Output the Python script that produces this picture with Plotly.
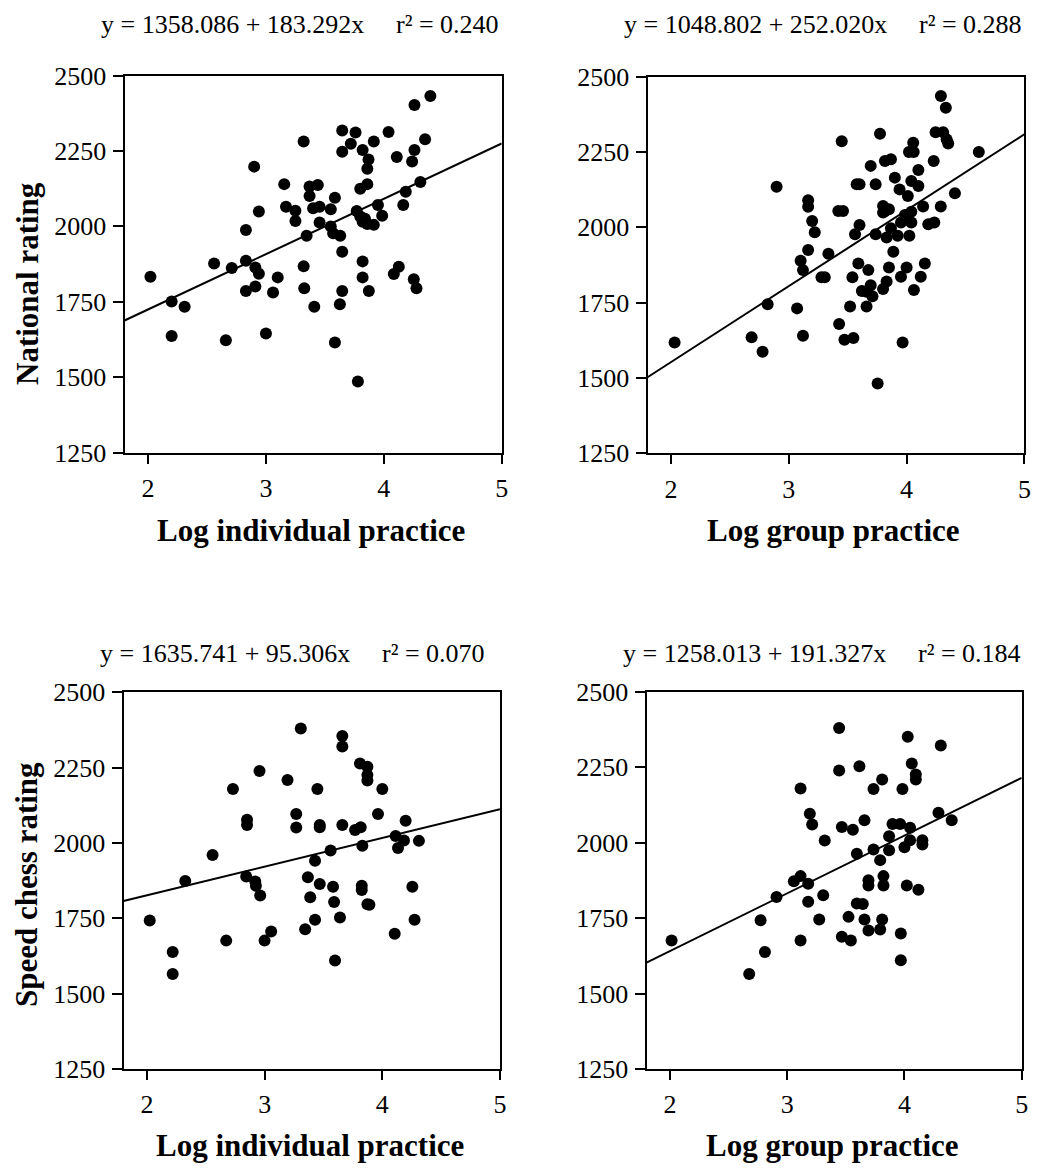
import plotly.graph_objects as go

# ---------------- data ----------------
ind_nat_x = [3.32, 2.90, 3.155, 3.37, 3.37, 3.40, 3.17, 3.25, 3.25, 2.94, 2.83, 3.345, 2.56, 2.71, 2.83, 2.91,
             2.94, 3.10, 3.32, 2.02, 2.20, 2.31, 2.83, 2.91, 3.06, 3.325, 3.41, 2.20, 2.66, 3.00,
             4.395, 4.26, 3.647, 3.76, 4.04, 3.72, 3.915, 4.35, 3.647, 3.82, 4.26, 3.87, 4.11, 4.24, 3.86,
             3.44, 3.86, 3.80, 3.585, 4.31, 4.186, 3.455, 3.55, 3.95, 4.165, 3.77, 3.80, 3.84, 3.82, 3.86,
             3.915, 3.986, 3.455, 3.55, 3.57, 3.63, 3.647, 3.82, 4.127, 4.085, 4.254, 4.277, 3.82, 3.647,
             3.873, 3.627, 3.585, 3.78]
ind_nat_y = [2281, 2198, 2140, 2132, 2101, 2060, 2065, 2052, 2018, 2049, 1988, 1969, 1877, 1862, 1886, 1864,
             1843, 1831, 1868, 1833, 1751, 1734, 1786, 1801, 1781, 1795, 1734, 1637, 1623, 1645,
             2432, 2402, 2318, 2311, 2313, 2274, 2281, 2289, 2247, 2253, 2253, 2222, 2230, 2215, 2191,
             2137, 2140, 2125, 2095, 2147, 2115, 2065, 2057, 2071, 2071, 2051, 2033, 2025, 2015, 2008,
             2005, 2035, 2013, 2000, 1977, 1969, 1916, 1884, 1866, 1842, 1825, 1795, 1831, 1786,
             1786, 1742, 1615, 1486]

grp_nat_x = [2.896, 3.164, 3.164, 3.198, 3.22, 3.164, 3.10, 3.12, 3.277, 3.305, 3.336, 2.82, 3.07, 2.03,
             2.684, 2.777, 3.12,
             4.291, 4.333, 3.774, 3.449, 4.246, 4.31, 4.34, 4.353, 4.056, 4.02, 4.06, 4.613, 3.816, 3.867,
             3.695, 4.23, 4.10, 3.576, 3.60, 3.737, 3.90, 4.04, 4.10, 3.94, 4.01, 4.41, 3.42, 3.46, 3.80,
             3.816, 3.85, 3.80, 4.14, 4.29, 4.04, 3.986, 4.04, 3.952, 4.184, 4.235, 3.60, 3.562, 3.737,
             3.867, 3.83, 3.924, 4.023, 3.887, 3.59, 3.675, 3.85, 4.0, 4.155, 3.54, 3.952, 4.12, 3.83,
             3.695, 3.62, 3.66, 3.71, 3.80, 4.062, 3.52, 3.66, 3.427, 3.472, 3.548, 3.966, 3.754]
grp_nat_y = [2135, 2090, 2068, 2021, 1984, 1925, 1889, 1858, 1834, 1834, 1912, 1745, 1731, 1618,
             1635, 1587, 1640,
             2436, 2397, 2311, 2286, 2316, 2316, 2292, 2278, 2281, 2250, 2250, 2250, 2220, 2226,
             2204, 2220, 2190, 2143, 2143, 2143, 2165, 2154, 2137, 2126, 2104, 2113, 2054, 2054, 2071,
             2054, 2060, 2049, 2069, 2069, 2052, 2041, 2016, 2016, 2010, 2016, 2008, 1977, 1977,
             1997, 1966, 1972, 1972, 1919, 1880, 1858, 1867, 1867, 1880, 1834, 1836, 1836, 1820,
             1808, 1789, 1786, 1771, 1795, 1792, 1737, 1737, 1679, 1627, 1633, 1618, 1482]

ind_spd_x = [3.307, 2.956, 2.73, 3.194, 3.268, 2.85, 2.85, 3.268, 2.557, 2.325, 2.843, 2.92, 2.925, 2.962,
             3.367, 3.387, 2.023, 2.673, 2.999, 3.055, 3.344, 2.218, 2.218,
             3.66, 3.66, 3.81, 3.873, 3.873, 3.873, 3.448, 4.0, 3.963, 4.198, 3.468, 3.468, 3.66, 3.768,
             3.816, 3.56, 3.83, 4.113, 4.184, 4.133, 4.311, 3.428, 3.468, 3.581, 3.825, 3.825, 4.255,
             3.59, 3.873, 3.89, 3.428, 3.64, 4.274, 4.105, 3.598]
ind_spd_y = [2380, 2239, 2179, 2209, 2096, 2077, 2060, 2051, 1960, 1874, 1889, 1872, 1858, 1826,
             1886, 1820, 1743, 1676, 1676, 1706, 1714, 1638, 1565,
             2355, 2320, 2264, 2253, 2226, 2207, 2179, 2179, 2096, 2074, 2060, 2052, 2060, 2043,
             2052, 1975, 1991, 2023, 2008, 1983, 2007, 1941, 1864, 1855, 1858, 1844, 1855,
             1804, 1797, 1795, 1745, 1753, 1745, 1699, 1610]

grp_spd_x = [3.114, 3.193, 3.213, 3.32, 3.057, 3.114, 3.179, 3.307, 3.179, 2.909, 2.773, 3.273, 2.014,
             2.81, 3.114, 2.676,
             3.443, 4.028, 4.31, 3.443, 3.616, 4.0625, 4.097, 4.097, 3.81, 3.736, 3.983, 4.29, 4.403,
             3.466, 3.56, 3.659, 3.898, 3.963, 4.048, 3.869, 4.048, 4.0, 4.153, 4.153, 3.594, 3.736,
             3.869, 3.793, 3.693, 3.693, 3.821, 3.821, 4.02, 4.119, 3.594, 3.645, 3.523, 3.659, 3.81,
             3.693, 3.793, 3.466, 3.543, 3.969, 3.969]
grp_spd_y = [2179, 2096, 2060, 2007, 1872, 1889, 1864, 1826, 1804, 1820, 1743, 1745, 1676,
             1638, 1676, 1565,
             2380, 2351, 2322, 2239, 2253, 2262, 2226, 2209, 2209, 2178, 2178, 2099, 2074,
             2052, 2043, 2074, 2062, 2062, 2049, 2021, 2008, 1985, 2008, 1994, 1963, 1977,
             1975, 1942, 1875, 1858, 1889, 1858, 1858, 1844, 1798, 1797, 1754, 1745, 1745,
             1709, 1712, 1688, 1676, 1699, 1610]

# regression equations printed above each panel: (intercept, slope, r2)
fits = [(1358.086, 183.292, 0.240), (1048.802, 252.020, 0.288),
        (1635.741, 95.306, 0.070), (1258.013, 191.327, 0.184)]

x_ticks = [2, 3, 4, 5]
y_ticks = [1250, 1500, 1750, 2000, 2250, 2500]
x_range = [1.8, 5]
y_range = [1250, 2500]

x_titles = ["Log individual practice", "Log group practice",
            "Log individual practice", "Log group practice"]
y_titles = ["National rating", "Speed chess rating"]

# ---------------- layout geometry ----------------
W, H = 1045, 1173
OFF = 8  # page body margin
# pixel boxes in page coordinates: (left, right, top, bottom)
boxes = [(124.5, 501.7, 75.5, 452.7),
         (647.5, 1024.4, 76.7, 453.3),
         (123.5, 500.0, 692.3, 1069.0),
         (646.5, 1021.7, 691.7, 1069.0)]
title_digit_y = [25, 25, 653, 653]
ytitle_center = [284, 885]
xtitle_y = [530, 530, 1145, 1145]


def px(x):
    return (x - OFF) / W


def py(y):
    return 1 - (y - OFF) / H


FONT = "Liberation Serif, Times New Roman, serif"

fig = go.Figure()
datasets = [(ind_nat_x, ind_nat_y), (grp_nat_x, grp_nat_y),
            (ind_spd_x, ind_spd_y), (grp_spd_x, grp_spd_y)]

for i, ((xs, ys), (b0, b1, r2)) in enumerate(zip(datasets, fits)):
    xa = "x" if i == 0 else f"x{i+1}"
    ya = "y" if i == 0 else f"y{i+1}"
    fig.add_trace(go.Scatter(
        x=x_range, y=[b0 + b1 * x_range[0], b0 + b1 * x_range[1]],
        mode="lines", line=dict(color="black", width=2),
        xaxis=xa, yaxis=ya, showlegend=False, hoverinfo="skip"))
    fig.add_trace(go.Scatter(
        x=xs, y=ys, mode="markers",
        marker=dict(size=12, color="black", line=dict(width=0)),
        xaxis=xa, yaxis=ya, showlegend=False, cliponaxis=False))

layout = dict(width=W, height=H, margin=dict(l=0, r=0, t=0, b=0, autoexpand=False),
              paper_bgcolor="white", plot_bgcolor="white",
              font=dict(family=FONT, color="black", size=26))
annotations = []
for i, (l, r, t, b) in enumerate(boxes):
    sx = "" if i == 0 else str(i + 1)
    layout["xaxis" + sx] = dict(
        domain=[px(l), px(r)], range=x_range, anchor="y" + sx, automargin=False,
        tickvals=x_ticks, ticks="outside", ticklen=9, tickwidth=2, tickcolor="black",
        showline=True, linecolor="black", linewidth=2, mirror=True,
        showgrid=False, zeroline=False, tickfont=dict(size=26, family=FONT),
        ticklabelstandoff=2)
    layout["yaxis" + sx] = dict(
        domain=[py(b), py(t)], range=y_range, anchor="x" + sx, automargin=False,
        tickvals=y_ticks, ticks="outside", ticklen=10, tickwidth=2, tickcolor="black",
        showline=True, linecolor="black", linewidth=2, mirror=True,
        showgrid=False, zeroline=False, tickfont=dict(size=26, family=FONT),
        ticklabelstandoff=1)
    b0, b1, r2 = fits[i]
    eq = f"y = {b0:.3f} + {b1:.3f}x"
    rtxt = f"r\u00b2 = {r2:.3f}"
    eq_left = l - 26
    r_left = eq_left + 295 - 13 * (3 - len(str(int(b1))))
    annotations.append(dict(text=eq, xref="paper", yref="paper",
                            x=px(eq_left), y=py(title_digit_y[i]),
                            xanchor="left", yanchor="middle", showarrow=False,
                            font=dict(size=26, family=FONT)))
    annotations.append(dict(text=rtxt, xref="paper", yref="paper",
                            x=px(r_left), y=py(title_digit_y[i]),
                            xanchor="left", yanchor="middle", showarrow=False,
                            font=dict(size=26, family=FONT)))
    annotations.append(dict(text=f"<b>{x_titles[i]}</b>", xref="paper", yref="paper",
                            x=px((l + r) / 2 - 2), y=py(xtitle_y[i]),
                            xanchor="center", yanchor="middle", showarrow=False,
                            font=dict(size=31, family=FONT)))
    if i % 2 == 0:
        annotations.append(dict(text=f"<b>{y_titles[i // 2]}</b>", xref="paper", yref="paper",
                                x=px(27), y=py(ytitle_center[i // 2]), textangle=-90,
                                xanchor="center", yanchor="middle", showarrow=False,
                                font=dict(size=31, family=FONT)))
layout["annotations"] = annotations
fig.update_layout(**layout)

fig.write_html("out.html")
